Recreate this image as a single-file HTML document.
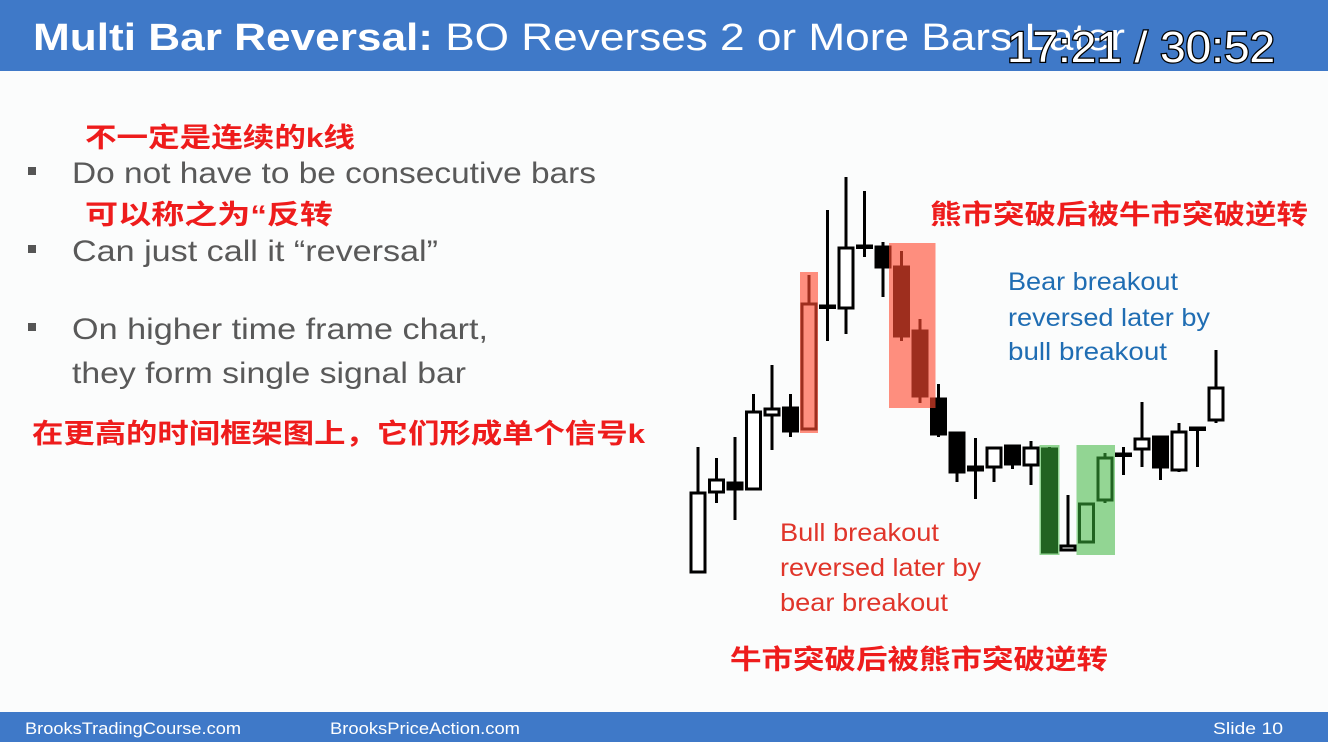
<!DOCTYPE html>
<html><head><meta charset="utf-8"><style>
html,body{margin:0;padding:0;background:#fbfcfc;}
svg{display:block;}
</style></head><body>
<svg id="slide" width="1328" height="742" viewBox="0 0 1328 742" xmlns="http://www.w3.org/2000/svg">
<rect x="0" y="0" width="1328" height="742" fill="#fbfcfc"/>
<g>
<rect x="0" y="0" width="1328" height="71" fill="#3f79c8"/>
<text x="33" y="50" font-family="Liberation Sans, sans-serif" font-size="38" fill="#fff" textLength="1092" lengthAdjust="spacingAndGlyphs"><tspan font-weight="bold">Multi Bar Reversal:</tspan> BO Reverses 2 or More Bars Later</text>
<text x="1007" y="62" font-family="Liberation Sans, sans-serif" font-size="44" fill="#fff" stroke="#000" stroke-width="2.5" paint-order="stroke" textLength="268" lengthAdjust="spacingAndGlyphs">17:21 / 30:52</text>
</g>
<g font-family="Liberation Sans, DejaVu Sans, sans-serif" fill="#595959" font-size="30">
<rect x="28" y="167" width="8" height="8" fill="#555"/>
<text x="72" y="183" textLength="524" lengthAdjust="spacingAndGlyphs">Do not have to be consecutive bars</text>
<rect x="28" y="245" width="8" height="8" fill="#555"/>
<text x="72" y="261" textLength="366" lengthAdjust="spacingAndGlyphs">Can just call it “reversal”</text>
<rect x="28" y="323" width="8" height="8" fill="#555"/>
<text x="72" y="339" textLength="416" lengthAdjust="spacingAndGlyphs">On higher time frame chart,</text>
<text x="72" y="383" textLength="394" lengthAdjust="spacingAndGlyphs">they form single signal bar</text>
</g>
<g font-family="Liberation Sans, Noto Sans CJK SC, sans-serif" fill="#ee1c1c" font-size="27" font-weight="bold">
<text x="85" y="147" textLength="270" lengthAdjust="spacingAndGlyphs">不一定是连续的k线</text>
<text x="85" y="224" textLength="248" lengthAdjust="spacingAndGlyphs">可以称之为“反转</text>
<text x="32" y="443" textLength="613" lengthAdjust="spacingAndGlyphs">在更高的时间框架图上，它们形成单个信号k</text>
<text x="930" y="224" textLength="378" lengthAdjust="spacingAndGlyphs">熊市突破后被牛市突破逆转</text>
<text x="730" y="669" textLength="378" lengthAdjust="spacingAndGlyphs">牛市突破后被熊市突破逆转</text>
</g>
<g font-family="Liberation Sans, DejaVu Sans, sans-serif" font-size="25">
<text x="1008" y="290" fill="#1f6db3" textLength="170" lengthAdjust="spacingAndGlyphs">Bear breakout</text>
<text x="1008" y="326" fill="#1f6db3" textLength="202" lengthAdjust="spacingAndGlyphs">reversed later by</text>
<text x="1008" y="360" fill="#1f6db3" textLength="159" lengthAdjust="spacingAndGlyphs">bull breakout</text>
<text x="780" y="541" fill="#e0352a" textLength="159" lengthAdjust="spacingAndGlyphs">Bull breakout</text>
<text x="780" y="576" fill="#e0352a" textLength="201" lengthAdjust="spacingAndGlyphs">reversed later by</text>
<text x="780" y="611" fill="#e0352a" textLength="168" lengthAdjust="spacingAndGlyphs">bear breakout</text>
</g>
<g id="chart"></g>
<g>
<rect x="0" y="712" width="1328" height="30" fill="#3f79c8"/>
<text x="25" y="734" font-family="Liberation Sans, sans-serif" font-size="17" fill="#fff" textLength="216" lengthAdjust="spacingAndGlyphs">BrooksTradingCourse.com</text>
<text x="330" y="734" font-family="Liberation Sans, sans-serif" font-size="17" fill="#fff" textLength="190" lengthAdjust="spacingAndGlyphs">BrooksPriceAction.com</text>
<text x="1213" y="734" font-family="Liberation Sans, sans-serif" font-size="17" fill="#fff" textLength="70" lengthAdjust="spacingAndGlyphs">Slide  10</text>
</g>
</svg>
<script>
const opens  = [28,108,117,111,185,192,171,294,292,354,353,333,269,201,167,130,133,154,135,151,50,58,100,146,151,163,130,172,180];
const highs  = [153,142,163,206,235,206,325,390,423,409,358,349,281,216,167,162,152,155,159,153,105,96,147,153,198,163,177,172,250];
const lows   = [27,97,80,111,150,163,170,259,266,343,303,259,197,163,118,101,118,131,115,47,50,58,97,125,133,120,128,133,177];
const closes = [107,120,111,188,191,169,296,294,352,354,333,264,204,166,128,133,152,136,152,48,54,96,142,146,161,133,168,172,212];
// highlight boxes: first candle idx, last candle idx, low price, high price
const boxStart = [6,11,19,21];
const boxEnd   = [6,12,19,22];
const boxLow   = [167,192,45,45];
const boxHigh  = [328,357,155,155];
const boxKind  = ['red','red','green','green'];
const boxPadL  = [2,5.5,3,3];
const boxPadR  = [2,8.5,3,3];

const NS='http://www.w3.org/2000/svg';
const g=document.getElementById('chart');
const xScale=i=>698+i*18.5;
const yScale=p=>600-p;
const bw=14;
function mk(tag,attrs){const e=document.createElementNS(NS,tag);for(const k in attrs)e.setAttribute(k,attrs[k]);return e;}
for(let i=0;i<opens.length;i++){
  const x=xScale(i);
  const cg=mk('g',{});
  
  
  const wick=mk('line',{x1:x,x2:x,y1:yScale(highs[i]),y2:yScale(lows[i]),stroke:'#000','stroke-width':3});
  
  
  cg.appendChild(wick);
  const top=yScale(Math.max(opens[i],closes[i])), bot=yScale(Math.min(opens[i],closes[i]));
  const bull=closes[i]>opens[i];
  const h=Math.max(bot-top,1.5);
  const body=mk('rect',{x:x-bw/2,y:top,width:bw,height:h,fill:bull?'#fff':'#000',stroke:'#000','stroke-width':3});
  
  
  cg.appendChild(body);
  g.appendChild(cg);
}
for(let j=0;j<boxStart.length;j++){
  const x0=xScale(boxStart[j])-bw/2-boxPadL[j], x1=xScale(boxEnd[j])+bw/2+boxPadR[j];
  const r=mk('rect',{x:x0,y:yScale(boxHigh[j]),width:x1-x0,height:yScale(boxLow[j])-yScale(boxHigh[j]),
    fill:boxKind[j]==='red'?'#ff4a30':'#3cb43c','fill-opacity':boxKind[j]==='red'?0.62:0.55});
  
  
  g.appendChild(r);
}
</script>
</body></html>
